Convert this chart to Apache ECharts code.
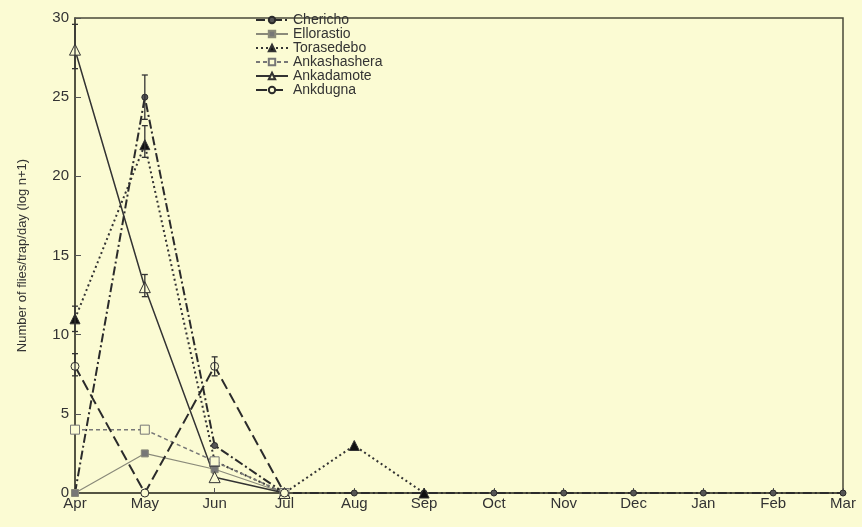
<!DOCTYPE html>
<html>
<head>
<meta charset="utf-8">
<script src="https://cdn.jsdelivr.net/npm/echarts@6/dist/echarts.min.js"></script>
<style>
    html, body {margin: 0; padding: 0; background: #fbfbd3;}
    #main {width: 862px; height: 527px;}
</style>
</head>
<body>
<div id="main"></div>
<script>
var months = ['Apr', 'May', 'Jun', 'Jul', 'Aug', 'Sep', 'Oct', 'Nov', 'Dec', 'Jan', 'Feb', 'Mar'];

var chericho = [0, 25, 3, 0, 0, 0, 0, 0, 0, 0, 0, 0];
var ellorastio = [0, 2.5, 1.5, 0];
var torasedebo = [11, 22, 2, 0, 3, 0];
var ankashashera = [4, 4, 2, 0];
var ankadamote = [28, 13, 1, 0];
var ankdugna = [8, 0, 8, 0];

// error bars: [month index, low, high]
var errorBars = [
    [0, 26.8, 29.6],
    [0, 10.2, 11.8],
    [0, 7.4, 8.8],
    [1, 23.6, 26.4],
    [1, 21.2, 23.2],
    [1, 12.4, 13.8],
    [2, 7.4, 8.6]
];

var ink = '#333';

// 垂直折线图
var myChart = echarts.init(document.getElementById('main'));

function line(name, data, marker, size, dash, fill, width, color) {
    return {
        name: name,
        type: 'line',
        data: data,
        symbol: marker,
        symbolSize: size,
        showSymbol: true,
        itemStyle: {color: fill, borderColor: color, borderWidth: 1},
        lineStyle: {color: color, width: width, type: dash},
        z: 3
    };
}

var option = {
    backgroundColor: '#fbfbd3',
    animation: false,
    grid: {
        left: 75,
        right: 19,
        top: 18,
        bottom: 34,
        show: true,
        borderColor: '#4a4a3a',
        borderWidth: 1.5,
        backgroundColor: 'transparent'
    },
    legend: {
        orient: 'vertical',
        left: 250,
        top: 8,
        itemGap: 0,
        itemWidth: 32,
        itemHeight: 8,
        textStyle: {color: ink, fontSize: 14, fontFamily: 'Liberation Sans'},
        data: ['Chericho', 'Ellorastio', 'Torasedebo', 'Ankashashera', 'Ankadamote', 'Ankdugna']
    },
    xAxis: {
        type: 'category',
        boundaryGap: false,
        data: months,
        axisLine: {lineStyle: {color: '#4a4a3a', width: 1.5}},
        axisTick: {inside: true, length: 5, lineStyle: {color: '#555'}},
        axisLabel: {color: ink, fontSize: 15, fontFamily: 'Liberation Sans', margin: 3}
    },
    yAxis: {
        type: 'value',
        min: 0,
        max: 30,
        interval: 5,
        name: 'Number of flies/trap/day (log n+1)',
        nameLocation: 'middle',
        nameGap: 46,
        nameTextStyle: {color: ink, fontSize: 13, fontFamily: 'Liberation Sans'},
        splitLine: {show: false},
        axisLine: {show: true, lineStyle: {color: '#4a4a3a', width: 1.5}},
        axisTick: {show: true, inside: true, length: 6, lineStyle: {color: '#555'}},
        axisLabel: {color: ink, fontSize: 15, fontFamily: 'Liberation Sans', margin: 6}
    },
    series: [
        line('Chericho', chericho, 'circle', 6, [9, 3, 2, 3], '#555', 2, '#2b2b2b'),
        line('Ellorastio', ellorastio, 'rect', 7, 'solid', '#777', 1.2, '#8a8a7a'),
        line('Torasedebo', torasedebo, 'triangle', 10, [2, 3], '#111', 2, '#333'),
        line('Ankashashera', ankashashera, 'rect', 9, [4, 3], '#fbfbd3', 1.5, '#777'),
        line('Ankadamote', ankadamote, 'triangle', 11, 'solid', '#fbfbd3', 1.5, '#333'),
        line('Ankdugna', ankdugna, 'circle', 8, [11, 5], '#fbfbd3', 2, '#2b2b2b'),
        {
            name: 'errors',
            type: 'custom',
            data: errorBars,
            z: 4,
            renderItem: function (params, api) {
                var lo = api.coord([api.value(0), api.value(1)]);
                var hi = api.coord([api.value(0), api.value(2)]);
                var w = 3;
                var st = {stroke: '#333', lineWidth: 1.3};
                return {
                    type: 'group',
                    children: [
                        {type: 'line', shape: {x1: lo[0], y1: lo[1], x2: hi[0], y2: hi[1]}, style: st},
                        {type: 'line', shape: {x1: lo[0] - w, y1: lo[1], x2: lo[0] + w, y2: lo[1]}, style: st},
                        {type: 'line', shape: {x1: hi[0] - w, y1: hi[1], x2: hi[0] + w, y2: hi[1]}, style: st}
                    ]
                };
            }
        }
    ]
};

myChart.setOption(option);
</script>
</body>
</html>
